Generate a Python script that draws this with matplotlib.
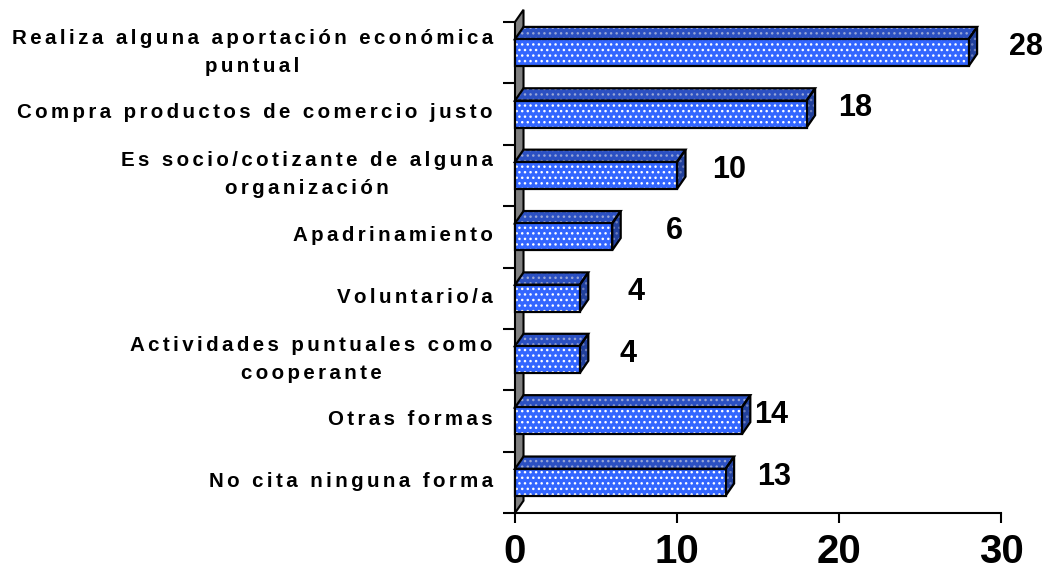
import matplotlib
matplotlib.use("Agg")
import matplotlib.pyplot as plt
from matplotlib.patches import Polygon

plt.rcParams['font.family'] = ['Liberation Sans', 'DejaVu Sans']
plt.rcParams['hatch.linewidth'] = 1.0

# ---- data (top to bottom) ----
categories = [
    "Realiza alguna aportación económica\npuntual",
    "Compra productos de comercio justo",
    "Es socio/cotizante de alguna\norganización",
    "Apadrinamiento",
    "Voluntario/a",
    "Actividades puntuales como\ncooperante",
    "Otras formas",
    "No cita ninguna forma",
]
values = [28, 18, 10, 6, 4, 4, 14, 13]
x_ticks = [0, 10, 20, 30]

# label placement offsets (style only)
label_dx = [3.55, 3.0, 3.2, 3.86, 3.5, 3.0, 1.8, 3.0]

def track(s):
    return "\n".join("\u2006".join(line) for line in s.split("\n"))

W, H = 1047, 574
fig = plt.figure(figsize=(W / 100, H / 100), dpi=100)
ax = fig.add_axes([515 / W, 1 - 513 / H, (1001 - 515) / W, (513 - 22) / H])

n = len(categories)
ax.set_xlim(0, 30)
ax.set_ylim(0, n)

DX, DY = 0.525, 0.2
BH = 0.44

front_c, top_c, side_c = '#3366FF', '#2B50C2', '#21409C'
front_h, top_h, side_h = '#FFFFFF', '#98A6D6', '#6C7EBE'

def face(verts, fc, hc, z):
    ax.add_patch(Polygon(verts, closed=True, facecolor=fc, edgecolor=hc,
                         hatch='...', linewidth=0, zorder=z, clip_on=False))
    ax.add_patch(Polygon(verts, closed=True, fill=False, edgecolor='black',
                         linewidth=1.6, zorder=z + 0.1, clip_on=False,
                         joinstyle='miter'))

# back wall
ax.add_patch(Polygon([(0, 0), (DX, DY), (DX, n + DY), (0, n)], closed=True,
                     facecolor='#808080', edgecolor='black', linewidth=1.5,
                     zorder=1, clip_on=False))

centers = [n - 0.5 - i for i in range(n)]
for i, (c, v) in enumerate(zip(centers, values)):
    b, t = c - BH / 2, c + BH / 2
    face([(0, b), (v, b), (v, t), (0, t)], front_c, front_h, 3)
    face([(0, t), (v, t), (v + DX, t + DY), (DX, t + DY)], top_c, top_h, 2)
    face([(v, b), (v + DX, b + DY), (v + DX, t + DY), (v, t)], side_c, side_h, 2)
    ax.text(v + label_dx[i], c + 0.15, str(v), ha='center', va='center_baseline',
            fontsize=22, fontweight='bold', color='black', zorder=5)

# spines
for s in ['top', 'right', 'left']:
    ax.spines[s].set_visible(False)
ax.spines['bottom'].set_linewidth(1.5)
ax.spines['bottom'].set_zorder(4)

# y ticks: boundaries (marks) + label anchors (invisible minor ticks)
label_y = [c + (0.115 if "\n" in cat else 0.05) for c, cat in zip(centers, categories)]
ax.set_yticks(range(n + 1))
ax.set_yticklabels([])
ax.set_yticks(label_y, labels=[track(c) for c in categories], minor=True)
ax.tick_params(axis='y', which='major', direction='out', length=8.6, width=1.5,
               color='black')
ax.tick_params(axis='y', which='minor', length=0, pad=16, labelsize=14.8)
for lab in ax.get_yticklabels(minor=True):
    lab.set_fontweight('bold')
    lab.set_multialignment('center')
    lab.set_linespacing(1.6)

ax.set_xticks(x_ticks, labels=[str(x) for x in x_ticks])
ax.tick_params(axis='x', direction='out', length=7.2, width=1.5, pad=7,
               labelsize=29)
for lab in ax.get_xticklabels():
    lab.set_fontweight('bold')

ax.set_facecolor('none')
fig.savefig('out.png', dpi=100, facecolor='white')
